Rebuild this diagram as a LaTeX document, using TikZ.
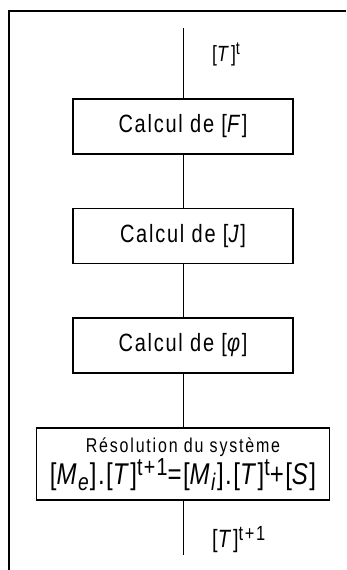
\documentclass[tikz,border=0pt]{standalone}
\usepackage{fontspec}
\setmainfont[FakeStretch=0.8,LetterSpace=7]{Liberation Sans}
\usetikzlibrary{positioning}
\newcommand{\sups}[1]{\raisebox{0.28em}{\scalebox{0.82}{#1}}}
\newcommand{\subs}[1]{\raisebox{-0.2em}{\scalebox{0.8}{#1}}}
\tikzstyle{block} = [rectangle, draw, line width=1.3pt, minimum width=220pt,
    minimum height=55pt, text centered, font=\fontsize{25}{30}\selectfont]
\tikzstyle{line} = [draw, line width=0.9pt]
\tikzstyle{tlabel} = [anchor=base west, inner sep=0pt]
\begin{document}
\begin{tikzpicture}[x=1pt, y=1pt, node distance = 109.5pt]
  \useasboundingbox (0,0) rectangle (346,-570);
  % outer frame
  \draw [line width=1.4pt] (9,-570) -- (9,-11) -- (346,-11);
  % Place nodes
  \node [block] at (183,-126.5) (calcF) {Calcul de [\textit{F}]};
  \node [block, below of=calcF] (calcJ) {Calcul de [\textit{J}]};
  \node [block, below of=calcJ] (calcphi) {Calcul de [\textit{φ}]};
  \node [block, below of=calcphi, node distance = 118.5pt, minimum width=293pt,
    minimum height=72pt, align=center,
    font=\fontsize{30}{32}\selectfont\addfontfeatures{LetterSpace=5}] (solve)
    {{\fontsize{20}{24}\selectfont\addfontfeatures{LetterSpace=9}Résolution du système}\\
     {[}\textit{M}\subs{\textit{e}}].[\textit{T}]\sups{t+1}=[\textit{M}\subs{\textit{i}}].[\textit{T}]\sups{t}+[\textit{S}]};
  \coordinate (start) at (183,-28);
  \coordinate (stop) at (183,-555);
  \node [tlabel, font=\fontsize{22}{24}\selectfont\addfontfeatures{LetterSpace=10}]
    at (212,-61) (Tin) {[\textit{T}]\sups{t}};
  \node [tlabel, font=\fontsize{25}{27}\selectfont\addfontfeatures{LetterSpace=8}]
    at (212,-547) (Tout) {[\textit{T}]\sups{t+1}};
  % Draw edges
  \path [line] (start) -- (calcF);
  \path [line] (calcF) -- (calcJ);
  \path [line] (calcJ) -- (calcphi);
  \path [line] (calcphi) -- (solve);
  \path [line] (solve) -- (stop);
\end{tikzpicture}
\end{document}
